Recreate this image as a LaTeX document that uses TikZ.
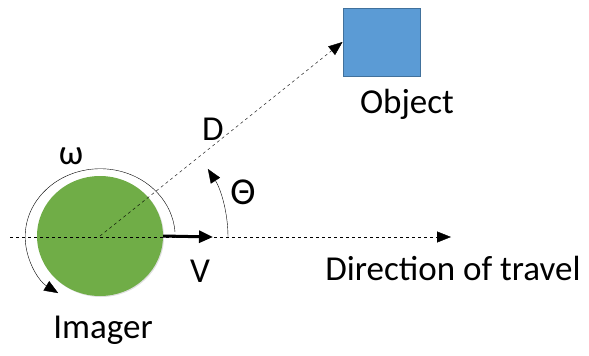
\documentclass[tikz,border=0pt]{standalone}
\usepackage{fontspec}
\setmainfont{Carlito}
\usetikzlibrary{shapes.geometric, arrows.meta, positioning, calc, shadows}
\definecolor{imagergreen}{RGB}{112,173,71}
\definecolor{objblue}{RGB}{91,155,213}
\definecolor{objedge}{RGB}{65,113,156}
\begin{document}
\begin{tikzpicture}[x=1pt, y=-1pt, every node/.style={font=\fontsize{35}{40}\selectfont, inner sep=0pt},
    tip/.style={-{Triangle[length=14pt, width=11pt]}}]
  \useasboundingbox (0,0) rectangle (589,356);
  % Bodies
  \node[ellipse, fill=imagergreen, minimum width=126, minimum height=120,
        drop shadow={opacity=0.25, shadow xshift=1pt, shadow yshift=-1pt}] (imager) at (100,236) {};
  \node[draw=objedge, fill=objblue, line width=1pt, minimum width=77, minimum height=68] (object) at (381.5,42) {};
  \coordinate (left) at (10,237);
  \coordinate (right) at (451,237);
  \coordinate (vtip) at (213,237);

  % Labels
  \node (objlabel) at (407,104) {Object};
  \node (imglabel) at (103,330) {Imager};
  \node (travel) at (453,268) {Direction of travel};
  \node (dlabel) at (213,129) {D};
  \node (wlabel) at (71,156) {ω};
  \node (tlabel) at (243,192) {\fontsize{38}{42}\selectfont Θ};
  \node (vlabel) at (200,271) {V};

  % Lines
  \draw[dashed, tip] (left) -- (right);
  \draw[dashed, tip] (imager.center) -- (object.west);
  \draw[line width=3pt, -{Triangle[length=14pt, width=12pt]}] (imager.east) -- (vtip);
  \draw[tip] (228,237) arc[start angle=0, end angle=33, x radius=125, y radius=-125];
  \draw[tip] (175,232) arc[start angle=4, end angle=236, x radius=75, y radius=-68];
\end{tikzpicture}
\end{document}
